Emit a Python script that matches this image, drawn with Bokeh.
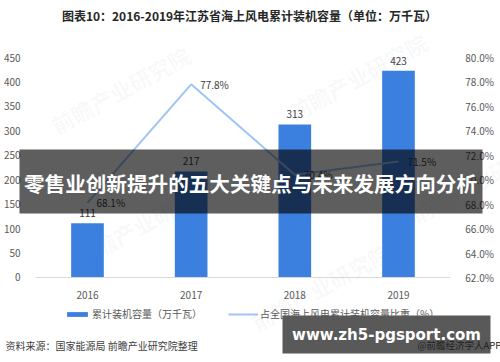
from bokeh.plotting import figure
from bokeh.models import (Range1d, LinearAxis, FixedTicker, PrintfTickFormatter, Label,
                          BoxAnnotation, Legend, LegendItem, ColumnDataSource)
from bokeh.core.properties import value
from bokeh.embed import file_html
from bokeh.resources import INLINE

# ---- data ----
years = ["2016", "2017", "2018", "2019"]
capacity = [111, 217, 313, 423]
share = [68.1, 77.8, 70.4, 71.5]
left_ticks = [0, 50, 100, 150, 200, 250, 300, 350, 400, 450]
right_ticks = [62, 64, 66, 68, 70, 72, 74, 76, 78, 80]
title_text = "图表10：2016-2019年江苏省海上风电累计装机容量（单位：万千瓦）"
bar_name = "累计装机容量（万千瓦）"
line_name = "占全国海上风电累计装机容量比重（%）"
source_text = "资料来源：国家能源局 前瞻产业研究院整理"
credit_text = "@前瞻经济学人APP"
banner_text = "零售业创新提升的五大关键点与未来发展方向分析"
site_text = "www.zh5-pgsport.com"
watermark = "前瞻产业研究院"

FONT = "Noto Sans CJK SC"
BAR_COLOR = "#3C80DF"
LINE_COLOR = "#9EC5F3"
TXT = "#404040"
AX_TXT = "#595959"

idx = list(range(len(years)))
src = ColumnDataSource(dict(
    i=idx, cap=capacity, share=share,
    cap_lbl=[str(v) for v in capacity],
    share_lbl=["%.1f%%" % v for v in share],
))

# frame = whole canvas; axes are pinned inside with fixed_location
p = figure(width=500, height=362, x_range=Range1d(-0.839, 3.984), y_range=Range1d(-173.9, 566.6),
           output_backend="svg", toolbar_location=None,
           min_border_left=0, min_border_right=0, min_border_top=0, min_border_bottom=0,
           background_fill_color="white", border_fill_color="white", outline_line_color=None)
p.title.visible = False
p.extra_y_ranges = {"pct": Range1d(55.05, 84.66)}
p.grid.visible = False

def style_axis(ax, standoff):
    ax.axis_line_color = None
    ax.major_tick_line_color = None
    ax.minor_tick_line_color = None
    ax.major_label_standoff = standoff
    ax.major_label_text_font = FONT
    ax.major_label_text_font_size = "10px"
    ax.major_label_text_color = AX_TXT

# left axis
ya = p.yaxis[0]
ya.ticker = FixedTicker(ticks=left_ticks)
ya.fixed_location = -0.5
style_axis(ya, 9)

# right axis
ra = LinearAxis(y_range_name="pct", ticker=FixedTicker(ticks=right_ticks),
                formatter=PrintfTickFormatter(format="%.1f%%"), fixed_location=3.5)
style_axis(ra, 9)
p.add_layout(ra, "right")

# bottom axis
xa = p.xaxis[0]
xa.ticker = FixedTicker(ticks=idx)
xa.major_label_overrides = {i: y for i, y in zip(idx, years)}
xa.fixed_location = 0
xa.bounds = (-0.5, 3.5)
style_axis(xa, 8)
xa.axis_line_color = "#D9D9D9"

# watermarks (faint)
for (wx, wy) in [(60, 222), (297, 235), (83, 89), (260, 25), (420, 132)]:
    p.add_layout(Label(x=wx, y=wy, x_units="screen", y_units="screen", text=watermark, angle=0.5,
                       text_font=FONT, text_font_size="22px", text_font_style="bold",
                       text_color="#8a9bb0", text_alpha=0.06, level="underlay"))

# bars
r_bar = p.vbar(x="i", top="cap", width=0.315, source=src, fill_color=BAR_COLOR, line_color=None)
p.text(x="i", y="cap", text="cap_lbl", source=src, text_align="center", text_baseline="middle",
       y_offset=-10, text_font=value(FONT), text_font_size="10px", text_color=TXT)

# line
r_line = p.line(x="i", y="share", source=src, y_range_name="pct", line_color=LINE_COLOR, line_width=2)
p.text(x="i", y="share", text="share_lbl", source=src, y_range_name="pct", text_align="left",
       text_baseline="middle", x_offset=9, text_font=value(FONT), text_font_size="10px", text_color=TXT)

# legends
def make_legend(item, loc, gw):
    return Legend(items=[item], location=loc, glyph_width=gw, glyph_height=6, label_standoff=2,
                  label_height=12, padding=0, margin=0, border_line_color=None,
                  background_fill_alpha=0, label_text_font=FONT, label_text_font_size="10px",
                  label_text_color=AX_TXT)

p.add_layout(make_legend(LegendItem(label=bar_name, renderers=[r_bar]), (64, 41), 26), "center")
p.add_layout(make_legend(LegendItem(label=line_name, renderers=[r_line]), (228, 41), 30), "center")

# title
p.add_layout(Label(x=249, y=347, x_units="screen", y_units="screen", text=title_text,
                   text_align="center", text_baseline="middle", text_font=FONT,
                   text_font_size="12px", text_font_style="bold", text_color="#262626"))

# footer
p.add_layout(Label(x=5, y=17, x_units="screen", y_units="screen", text=source_text,
                   text_align="left", text_baseline="middle", text_font=FONT,
                   text_font_size="10px", text_color=TXT))

# banner 1
p.add_layout(BoxAnnotation(left=19, right=482, top=213, bottom=149, left_units="screen",
                           right_units="screen", top_units="screen", bottom_units="screen",
                           fill_color="black", fill_alpha=0.63, line_color=None))
p.add_layout(Label(x=250, y=180, x_units="screen", y_units="screen", text=banner_text,
                   text_align="center", text_baseline="middle", text_font=FONT,
                   text_font_size="20.6px", text_font_style="bold", text_color="white"))

# banner 2
p.add_layout(BoxAnnotation(left=282, right=490, top=47, bottom=9, left_units="screen",
                           right_units="screen", top_units="screen", bottom_units="screen",
                           fill_color="black", fill_alpha=0.65, line_color=None))
p.add_layout(Label(x=386, y=28, x_units="screen", y_units="screen", text=site_text,
                   text_align="center", text_baseline="middle", text_font="DejaVu Sans",
                   text_font_size="15px", text_font_style="bold", text_color="white"))
p.add_layout(Label(x=417, y=18, x_units="screen", y_units="screen", text=credit_text,
                   text_align="left", text_baseline="middle", text_font=FONT,
                   text_font_size="9.5px", text_color="#222222"))

open("out.html", "w").write(file_html(p, INLINE))
